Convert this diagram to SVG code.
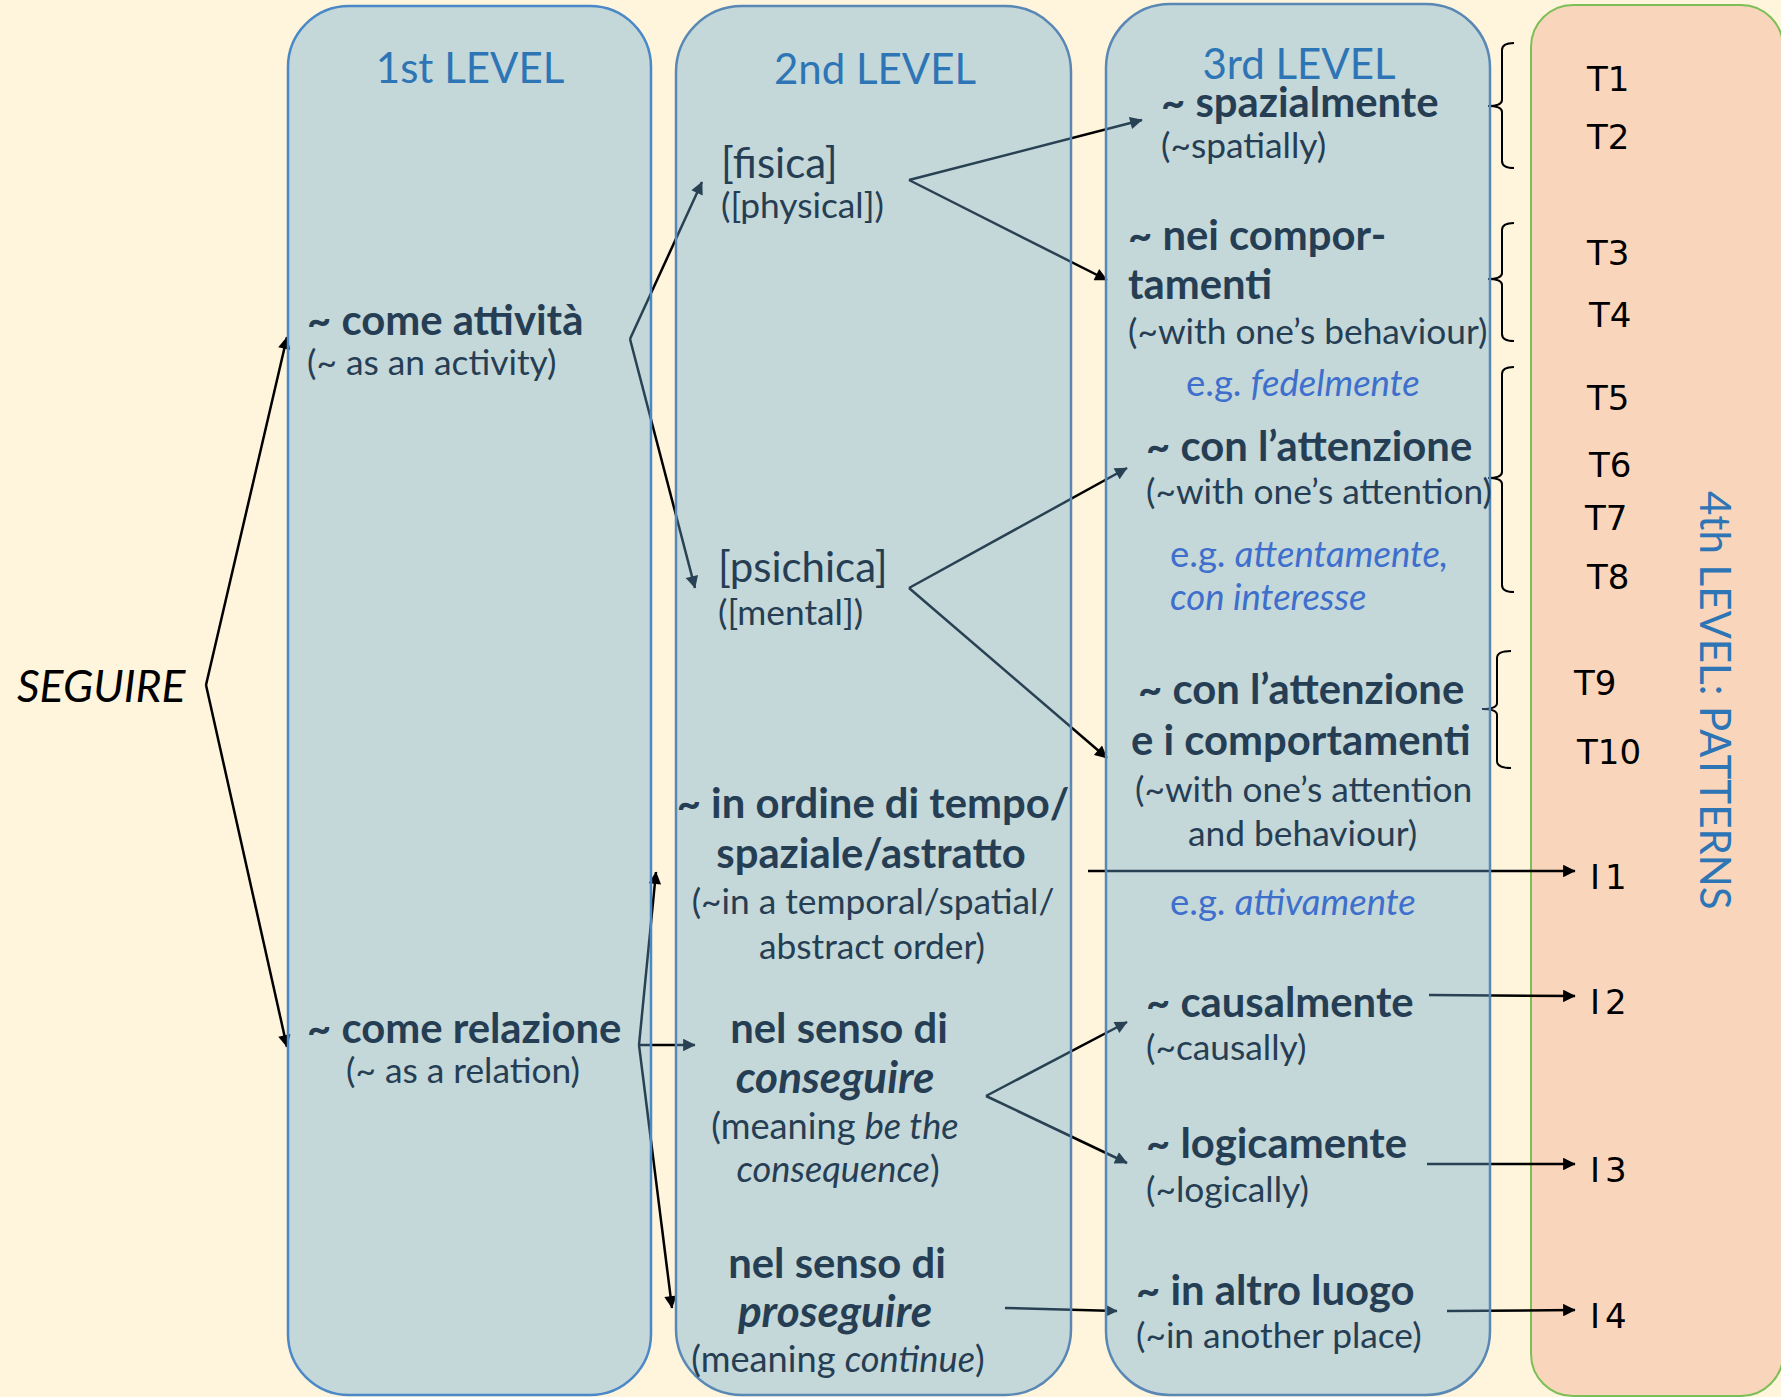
<svg xmlns="http://www.w3.org/2000/svg" width="1781" height="1397" viewBox="0 0 1781 1397">
<defs>
<marker id="ah" viewBox="0 0 10 10" refX="9.5" refY="5" markerWidth="6.5" markerHeight="5" markerUnits="strokeWidth" orient="auto">
<path d="M0,0 L10,5 L0,10 z" fill="#000"/>
</marker>
<style>
.col{fill:#68A8D7;fill-opacity:0.39;stroke:#5A88B5;stroke-width:2.5}
.ttl{font-family:Lato,'Open Sans',sans-serif;font-size:42px;fill:#2E75B6}
.b{font-family:Lato,'Open Sans',sans-serif;font-size:41.8px;font-weight:bold;fill:#263E54}
.bi{font-size:44px;font-style:italic}
.r{font-family:Lato,'Open Sans',sans-serif;font-size:35.3px;fill:#263E54}
.ri{font-size:36.2px}
.rl{font-family:Lato,'Open Sans',sans-serif;font-size:42px;fill:#263E54}
.eg{font-family:Lato,'Open Sans',sans-serif;font-size:36.5px;fill:#3E6FCC}
.i{font-style:italic}
.mid{text-anchor:middle}
.t{font-family:'DejaVu Sans',sans-serif;font-size:34px;fill:#000}
.il{letter-spacing:5px}
.cn{fill:none;stroke:#000;stroke-width:2.5}
.br{fill:none;stroke:#000;stroke-width:2}
</style>
</defs>
<rect x="0" y="0" width="1781" height="1397" fill="#FFF5DC"/>

<g id="level4">
<rect x="1531" y="5" width="252" height="1391" rx="42" ry="42" fill="#F9D5BB" stroke="#7CBF57" stroke-width="2"/>
<text class="ttl" transform="translate(1700,491) rotate(90)">4th LEVEL: PATTERNS</text>
<g id="braces">
<path class="br" d="M1514,43 Q1502,43 1502,50 L1502,100 Q1502,106 1488,106 Q1502,106 1502,112 L1502,161 Q1502,168 1514,168"/>
<path class="br" d="M1514,223 Q1502,223 1502,230 L1502,273 Q1502,279 1488,279 Q1502,279 1502,285 L1502,334 Q1502,341 1514,341"/>
<path class="br" d="M1514,367 Q1502,367 1502,374 L1502,472 Q1502,478 1488,478 Q1502,478 1502,484 L1502,585 Q1502,592 1514,592"/>
<path class="br" d="M1511,651 Q1497,651 1497,658 L1497,703 Q1497,709 1482,709 Q1497,709 1497,715 L1497,761 Q1497,768 1511,768"/>
</g>
<text class="t" x="1587" y="91">T1</text>
<text class="t" x="1587" y="149">T2</text>
<text class="t" x="1587" y="265">T3</text>
<text class="t" x="1589" y="327">T4</text>
<text class="t" x="1587" y="410">T5</text>
<text class="t" x="1589" y="477">T6</text>
<text class="t" x="1585" y="530">T7</text>
<text class="t" x="1587" y="589">T8</text>
<text class="t" x="1574" y="695">T9</text>
<text class="t" x="1577" y="764">T10</text>
<text class="t il" x="1590" y="889">I1</text>
<text class="t il" x="1590" y="1014">I2</text>
<text class="t il" x="1590" y="1182">I3</text>
<text class="t il" x="1590" y="1328">I4</text>
</g>

<g id="connectors">
<line class="cn" x1="206" y1="685" x2="287" y2="337" marker-end="url(#ah)"/>
<line class="cn" x1="206" y1="685" x2="287" y2="1047" marker-end="url(#ah)"/>
<line class="cn" x1="630" y1="339" x2="702" y2="182" marker-end="url(#ah)"/>
<line class="cn" x1="630" y1="339" x2="695" y2="588" marker-end="url(#ah)"/>
<line class="cn" x1="909" y1="180" x2="1142" y2="120" marker-end="url(#ah)"/>
<line class="cn" x1="909" y1="180" x2="1107" y2="280" marker-end="url(#ah)"/>
<line class="cn" x1="909" y1="588" x2="1127" y2="468" marker-end="url(#ah)"/>
<line class="cn" x1="909" y1="588" x2="1107" y2="758" marker-end="url(#ah)"/>
<line class="cn" x1="639" y1="1045" x2="656" y2="872" marker-end="url(#ah)"/>
<line class="cn" x1="639" y1="1045" x2="695" y2="1045" marker-end="url(#ah)"/>
<line class="cn" x1="639" y1="1045" x2="672" y2="1308" marker-end="url(#ah)"/>
<line class="cn" x1="986" y1="1096" x2="1127" y2="1022" marker-end="url(#ah)"/>
<line class="cn" x1="986" y1="1096" x2="1127" y2="1163" marker-end="url(#ah)"/>
<line class="cn" x1="1005" y1="1308" x2="1117" y2="1311" marker-end="url(#ah)"/>
<line class="cn" x1="1088" y1="871" x2="1575" y2="871" marker-end="url(#ah)"/>
<line class="cn" x1="1429" y1="995" x2="1575" y2="996" marker-end="url(#ah)"/>
<line class="cn" x1="1427" y1="1164" x2="1575" y2="1164" marker-end="url(#ah)"/>
<line class="cn" x1="1447" y1="1311" x2="1575" y2="1310" marker-end="url(#ah)"/>
</g>

<g id="seguire">
<text x="17" y="702" font-family="Lato,'Open Sans',sans-serif" font-size="44.5" font-style="italic" fill="#000">SEGUIRE</text>
</g>

<g id="level1">
<rect class="col" x="288" y="6" width="363" height="1389" rx="61" ry="61" style="stroke:#4A88C8"/>
<text class="ttl mid" x="470" y="83">1st LEVEL</text>
<text class="b" x="307" y="335">~ come attività</text>
<text class="r" x="307" y="375">(~ as an activity)</text>
<text class="b" x="307" y="1043">~ come relazione</text>
<text class="r mid" x="463" y="1083">(~ as a relation)</text>
</g>

<g id="level2">
<rect class="col" x="676" y="6" width="395" height="1389" rx="66" ry="66"/>
<text class="ttl mid" x="875" y="84">2nd LEVEL</text>
<text class="rl" x="721" y="178">[fisica]</text>
<text class="r" x="721" y="218">([physical])</text>
<text class="rl" x="718" y="582">[psichica]</text>
<text class="r" x="718" y="625">([mental])</text>
<text class="b mid" x="873" y="818">~ in ordine di tempo/</text>
<text class="b mid" x="871" y="868">spaziale/astratto</text>
<text class="r mid" x="873" y="914">(~in a temporal/spatial/</text>
<text class="r mid" x="872" y="959">abstract order)</text>
<text class="b mid" x="839" y="1043">nel senso di</text>
<text class="b mid bi" x="835" y="1093">conseguire</text>
<text class="r ri mid" x="835" y="1139">(meaning <tspan class="i">be the</tspan></text>
<text class="r ri mid" x="838" y="1182"><tspan class="i">consequence</tspan>)</text>
<text class="b mid" x="837" y="1278">nel senso di</text>
<text class="b mid bi" x="835" y="1327">proseguire</text>
<text class="r ri mid" x="838" y="1372">(meaning <tspan class="i">continue</tspan>)</text>
</g>

<g id="level3">
<rect class="col" x="1106" y="4" width="384" height="1391" rx="64" ry="64"/>
<text class="ttl mid" x="1299" y="79">3rd LEVEL</text>
<text class="b" x="1161" y="117">~ spazialmente</text>
<text class="r" x="1161" y="158">(~spatially)</text>
<text class="b" x="1128" y="250">~ nei compor-</text>
<text class="b" x="1128" y="299">tamenti</text>
<text class="r" x="1128" y="344">(~with one’s behaviour)</text>
<text class="eg" x="1186" y="396">e.g. <tspan class="i">fedelmente</tspan></text>
<text class="b" x="1146" y="461">~ con l’attenzione</text>
<text class="r" x="1146" y="504">(~with one’s attention)</text>
<text class="eg" x="1170" y="567">e.g. <tspan class="i">attentamente,</tspan></text>
<text class="eg i" x="1170" y="610">con interesse</text>
<text class="b" x="1138" y="704">~ con l’attenzione</text>
<text class="b" x="1131" y="755">e i comportamenti</text>
<text class="r" x="1135" y="802">(~with one’s attention</text>
<text class="r" x="1188" y="846">and behaviour)</text>
<text class="eg" x="1170" y="915">e.g. <tspan class="i">attivamente</tspan></text>
<text class="b" x="1146" y="1017">~ causalmente</text>
<text class="r" x="1146" y="1060">(~causally)</text>
<text class="b" x="1146" y="1158">~ logicamente</text>
<text class="r" x="1146" y="1202">(~logically)</text>
<text class="b" x="1136" y="1305">~ in altro luogo</text>
<text class="r" x="1136" y="1348">(~in another place)</text>
</g>
</svg>
